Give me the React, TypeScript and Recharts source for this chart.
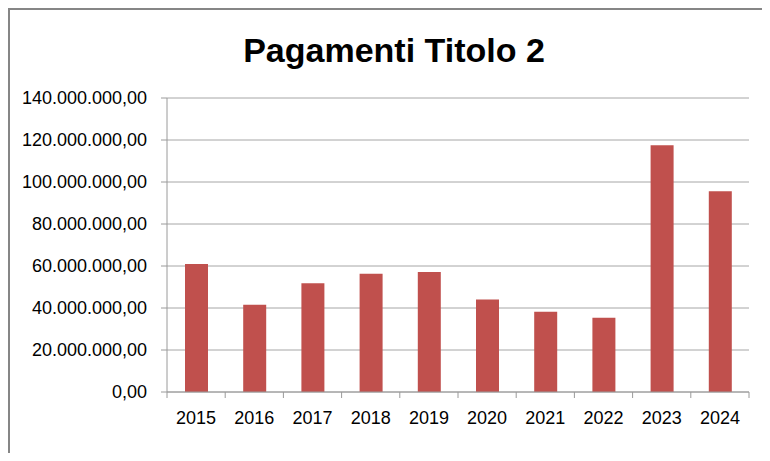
import { Bar, BarChart, CartesianGrid, XAxis, YAxis } from "recharts";

// Values
const years = ["2015", "2016", "2017", "2018", "2019", "2020", "2021", "2022", "2023", "2024"];
const pagamenti = [61000000, 41500000, 51800000, 56300000, 57200000, 44000000, 38200000, 35300000, 117500000, 95600000];
const yTicks = [0, 20000000, 40000000, 60000000, 80000000, 100000000, 120000000, 140000000];

const data = years.map((year, i) => ({ year, value: pagamenti[i] }));

const FONT = "'Liberation Sans', Arial, sans-serif";
const X_TICK_SIZE = 6;
const X_TICK_MARGIN = 13;

// 140000000 -> "140.000.000,00"
const formatIt = (v: number) => {
  const int = Math.round(v).toString().replace(/\B(?=(\d{3})+(?!\d))/g, ".");
  return `${int},00`;
};

// x tick: label in the middle, tick marks on the category boundaries
const YearTick = (props: any) => {
  const { x, y, payload, index, visibleTicksCount } = props;
  const half = payload && payload.offset ? payload.offset : 29.1;
  const axisY = y - X_TICK_SIZE - X_TICK_MARGIN;
  return (
    <g>
      <line x1={x - half} x2={x - half} y1={axisY} y2={axisY + X_TICK_SIZE} stroke="#9a9a9a" />
      {index === visibleTicksCount - 1 && (
        <line x1={x + half} x2={x + half} y1={axisY} y2={axisY + X_TICK_SIZE} stroke="#9a9a9a" />
      )}
      <text x={x} y={y} dy="0.71em" textAnchor="middle" fill="#000" fontSize={18} fontFamily={FONT}>
        {payload.value}
      </text>
    </g>
  );
};

const App = () => {
  return (
    <div
      style={{
        position: "relative",
        width: 760,
        height: 443,
        borderTop: "2px solid #868686",
        borderLeft: "2px solid #868686",
        background: "#fff",
        overflow: "hidden",
      }}
    >
      <div
        style={{
          position: "absolute",
          top: 23,
          left: 4,
          width: 760,
          textAlign: "center",
          fontFamily: FONT,
          fontWeight: "bold",
          fontSize: 34,
          lineHeight: "34px",
          color: "#000",
        }}
      >
        Pagamenti Titolo 2
      </div>
      <BarChart width={760} height={443} data={data} margin={{ top: 88, right: 21, left: 0, bottom: 30 }}>
        <CartesianGrid vertical={false} stroke="#a6a6a6" />
        <XAxis
          dataKey="year"
          height={31}
          axisLine={{ stroke: "#9a9a9a" }}
          tickLine={false}
          tickSize={X_TICK_SIZE}
          tickMargin={X_TICK_MARGIN}
          tick={<YearTick />}
          interval={0}
        />
        <YAxis
          width={157}
          domain={[0, 140000000]}
          ticks={yTicks}
          interval={0}
          tickFormatter={formatIt}
          axisLine={{ stroke: "#9a9a9a" }}
          tickLine={{ stroke: "#9a9a9a" }}
          tickSize={6}
          tickMargin={14}
          tick={{ fill: "#000", fontSize: 18, fontFamily: FONT }}
        />
        <Bar dataKey="value" fill="#C0504D" barSize={23} isAnimationActive={false} />
      </BarChart>
    </div>
  );
};

export default App;
